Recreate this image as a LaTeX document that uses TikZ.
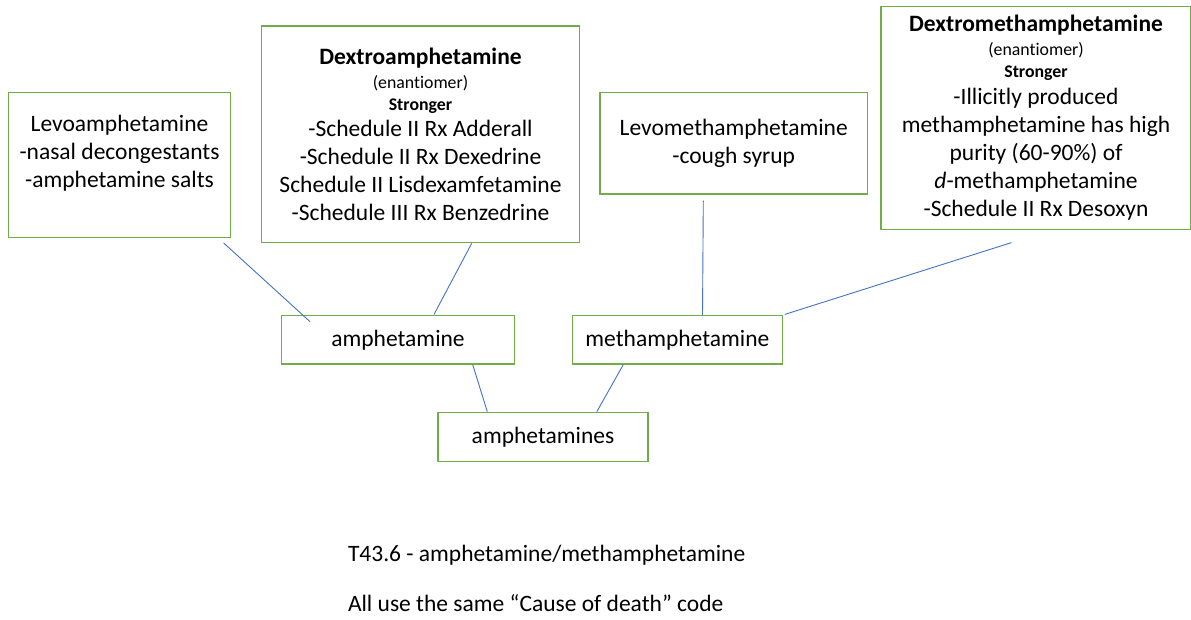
\documentclass[tikz,border=0pt]{standalone}
\usepackage{fontspec}
\setmainfont{Carlito}[Ligatures=NoCommon]
\usepackage{tikz,xcolor}
\definecolor{grn}{HTML}{70AD47}
\definecolor{lnk}{HTML}{4472C4}
\newcommand{\mainsz}{\fontsize{23.5}{28}\selectfont}
\newcommand{\tinynote}[1]{{\fontsize{17.8}{21}\selectfont #1}}
\tikzset{
  box/.style={draw=grn,line width=1.2pt,align=center,inner sep=0pt,font=\mainsz},
  txt/.style={align=center,inner sep=0pt,font=\mainsz},
  lbl/.style={inner sep=0pt,font=\mainsz},
  ln/.style={draw=lnk,line width=0.9pt},
}
\begin{document}
\begin{tikzpicture}[x=1pt,y=-1pt]
\useasboundingbox (0,0) rectangle (1191,620);
\node[box,minimum width=222.4pt,minimum height=144.6pt] (levo) at (119.5,165) {};
\node[txt,anchor=north] (levotxt) at ([yshift=-23pt]levo.north)
  {Levoamphetamine\\-nasal decongestants\\-amphetamine salts};
\node[box,minimum width=317.6pt,minimum height=216.3pt] (dextro) at (420.5,134.2)
  {\textbf{Dextroamphetamine}\\[-4pt]\tinynote{(enantiomer)}\\[-6pt]\tinynote{\textbf{Stronger}}\\[-2pt]
   -Schedule II Rx Adderall\\-Schedule II Rx Dexedrine\\Schedule II Lisdexamfetamine\\-Schedule III Rx Benzedrine};
\node[box,minimum width=267.3pt,minimum height=101.3pt] (levometh) at (733.7,143.3)
  {Levomethamphetamine\\-cough syrup};
\node[box,minimum width=310pt,minimum height=222.6pt] (dextrometh) at (1036,118)
  {\textbf{Dextromethamphetamine}\\[-4pt]\tinynote{(enantiomer)}\\[-6pt]\tinynote{\textbf{Stronger}}\\[-1pt]
   -Illicitly produced\\methamphetamine has high\\purity (60-90\%) of\\\textit{d}-methamphetamine\\-Schedule II Rx Desoxyn};
\node[box,minimum width=232.6pt,minimum height=48.3pt] (amph) at (398,339.9) {amphetamine};
\node[box,minimum width=210.1pt,minimum height=48.3pt] (meth) at (677.4,339.9) {methamphetamine};
\node[box,minimum width=210pt,minimum height=49pt] (amphs) at (543,436.8) {amphetamines};
\node[lbl,anchor=base west] (code) at (347.8,561.7) {T43.6 - amphetamine/methamphetamine};
\node[lbl,anchor=base west] (same) at (347.8,611.7) {All use the same “Cause of death” code};
\draw[ln] ([shift={(-7.7,5)}]levo.south east) -- ([shift={(29,6.6)}]amph.north west);
\draw[ln] ([shift={(51.2,0.4)}]dextro.south) -- ([shift={(36,-0.7)}]amph.north);
\draw[ln] ([shift={(-30.4,6)}]levometh.south) -- ([shift={(25.1,0)}]meth.north);
\draw[ln] ([shift={(-24.5,12.7)}]dextrometh.south) -- ([shift={(1.6,-0.7)}]meth.north east);
\draw[ln] ([xshift=74.7pt]amph.south) -- ([xshift=-55.7pt]amphs.north);
\draw[ln] ([xshift=-54.1pt]meth.south) -- ([xshift=53.8pt]amphs.north);
\end{tikzpicture}
\end{document}
